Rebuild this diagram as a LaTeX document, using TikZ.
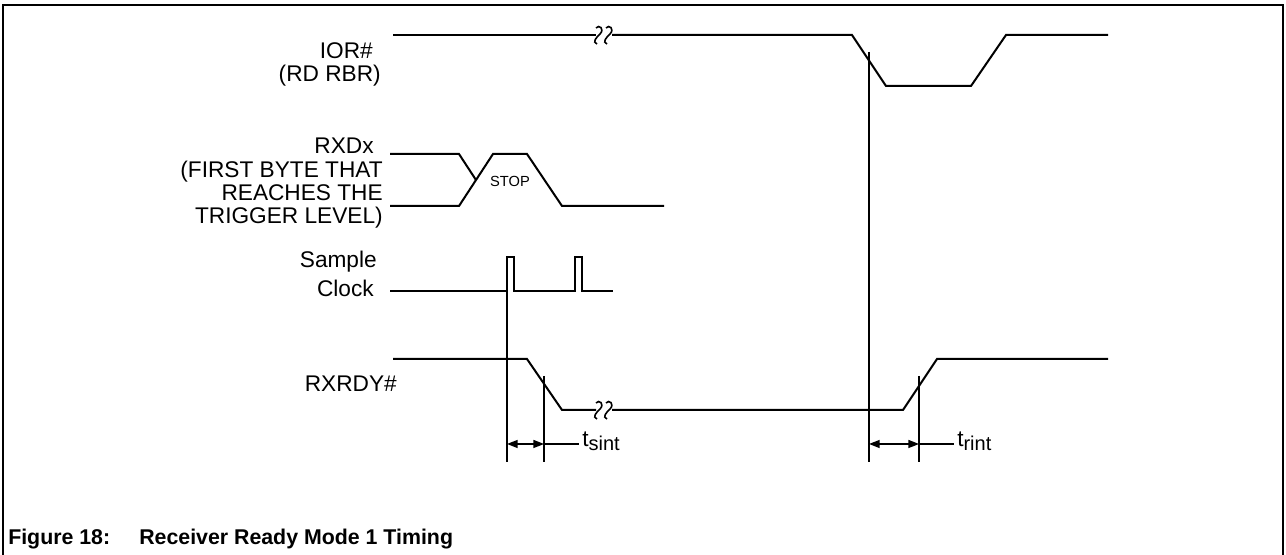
\documentclass[tikz,border=0pt]{standalone}
\usepackage{fontspec}
\setmainfont{Liberation Sans}
\usetikzlibrary{arrows.meta}

\tikzset{
  signal/.style={line width=1.5pt, line join=miter},
  refline/.style={line width=1.1pt},
  dimline/.style={line width=1.1pt, {Triangle[length=8pt,width=6pt]}-{Triangle[length=8pt,width=6pt]}},
  siglabel/.style={inner sep=0pt, align=right, font=\fontsize{17}{17.5}\selectfont},
  timelabel/.style={inner sep=0pt, anchor=west, font=\fontsize{17}{17.5}\selectfont},
  breakmark/.pic={
    \draw[line width=1.2pt] (-3,-7) .. controls (0,-11) and (6,-6) .. (1,-1)
      .. controls (-3,3) and (-7,7) .. (-2,9);
  },
}
\newcommand{\tsub}[1]{t\raisebox{-0.35ex}{\fontsize{15}{15}\selectfont #1}}

\begin{document}
\begin{tikzpicture}[x=0.75pt,y=-0.75pt]
    \useasboundingbox (0,0) rectangle (1286,555);
    % frame, open at the bottom
    \draw[line width=2pt] (3,555) -- (3,5) -- (1283,5) -- (1283,555);

    % signal names
    \node[siglabel, anchor=north east] (ior) at (381,42) {IOR\#\hspace*{0.35em}\\(RD RBR)};
    \node[siglabel, anchor=north east] (rxd) at (383,138)
      {RXDx\hspace*{0.4em}\\(FIRST BYTE THAT\\REACHES THE\hspace*{0.15em}\\TRIGGER LEVEL)};
    \node[siglabel, anchor=base east] (sample) at (377,268) {Sample};
    \node[siglabel, anchor=base east] (clock) at (374,297) {Clock};
    \node[siglabel, anchor=base east] (rxrdy) at (397,392) {RXRDY\#};

    % IOR#
    \draw[signal] (393,35) -- (596,35);
    \draw[signal] (612,35) -- (852,35) -- (886,86) -- (971,86) -- (1006,35) -- (1108,35);
    \pic at (599,35) {breakmark};
    \pic at (609,35) {breakmark};

    % RXDx
    \draw[signal] (390,154) -- (459,154) -- (476,180);
    \draw[signal] (390,206) -- (459,206) -- (493,154) -- (527,154) -- (562,206) -- (664,206);
    \node[font=\fontsize{11}{12}\selectfont, inner sep=0pt] (stop) at (510,181) {STOP};

    % sample clock
    \draw[signal] (390,291) -- (507,291) -- (507,257) -- (514,257) -- (514,291)
      -- (575,291) -- (575,257) -- (582,257) -- (582,291) -- (613,291);

    % RXRDY#
    \draw[signal] (393,359) -- (527,359) -- (562,410) -- (596,410);
    \draw[signal] (612,410) -- (903,410) -- (937,359) -- (1108,359);
    \pic at (599,410) {breakmark};
    \pic at (609,410) {breakmark};

    % reference lines
    \draw[refline] (507,291) -- (507,462);
    \draw[refline] (544,376) -- (544,462);
    \draw[refline] (869,52) -- (869,462);
    \draw[refline] (919,376) -- (919,462);

    % t_sint
    \coordinate (sa) at (507,444);
    \coordinate (sb) at (544,444);
    \node[timelabel] (tsint) at (582,441) {\tsub{sint}};
    \draw[dimline] (sa) -- (sb);
    \draw[refline] (sb) -- ([xshift=-2.5pt]tsint.west |- sb);

    % t_rint
    \coordinate (ra) at (869,444);
    \coordinate (rb) at (919,444);
    \node[timelabel] (trint) at (957,441) {\tsub{rint}};
    \draw[dimline] (ra) -- (rb);
    \draw[refline] (rb) -- ([xshift=-2.5pt]trint.west |- rb);

    % caption
    \node[inner sep=0pt, anchor=base west, font=\fontsize{16}{18}\bfseries] (fig) at (8,545) {Figure 18:};
    \node[inner sep=0pt, anchor=base west, font=\fontsize{16}{18}\bfseries] (title) at (139,545)
      {Receiver Ready Mode 1 Timing};
  \end{tikzpicture}
\end{document}
